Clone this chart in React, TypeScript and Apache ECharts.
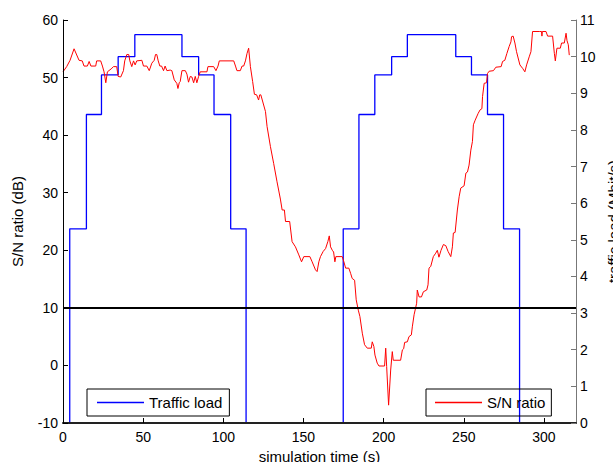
import React, { useEffect, useRef } from "react";
import * as echarts from "echarts";

// Traffic load (right axis, Mbit/s) – step changes
const trafficTime = [0, 4.2, 14.6, 24, 34.4, 44.8, 74.2, 84.6, 94.2, 104.6, 114.2, 174.8, 184.6, 194.5, 205, 214.8, 245, 254.8, 264.8, 274.8, 284.8, 320];
const trafficLoad = [0, 5.3, 8.42, 9.5, 10.0, 10.6, 10.0, 9.5, 8.42, 5.3, 0, 5.3, 8.42, 9.5, 10.0, 10.6, 10.0, 9.5, 8.42, 5.3, 0, 0];

// S/N ratio (left axis, dB)
const snTime = [
  0, 2.3, 4.4, 6.9, 10, 12, 13.1, 15.2, 16.3, 17.4, 20.4, 21, 23.5, 24.6, 25.6, 26.7, 27.7, 30, 31.5, 33.5,
  34.4, 36, 37.7, 38.5, 39.8, 41, 41.7, 42.9, 44, 45, 46, 49.2, 50.2, 52.3, 53.8, 55.4, 56.9, 57.7, 58.5, 59.4,
  60.4, 61.5, 62.7, 63.7, 64.8, 66.9, 67.9, 69.4, 71, 71.7, 72.5, 73.1, 74.2, 76.3, 77.3, 78.3, 79.4, 80.4, 81.5, 82.5,
  83.5, 84.6, 85.6, 89.8, 90.4, 94, 95.4, 96.7, 97.5, 106.5, 107.6, 108.5, 110.6, 111.7, 112.7, 113.8, 114.8, 115.8, 116.9, 118.3,
  119.4, 120.8, 122, 122.7, 123.4, 126.3, 127.3, 129.4, 131.4, 133.5, 135.6, 136.7, 138.1, 138.8, 141.4, 142.9, 145, 147.1, 148.8, 150.2,
  154, 155.4, 157.5, 158.5, 159.6, 160.6, 162.3, 163.8, 165.2, 166.1, 166.9, 168, 168.8, 169.6, 170.2, 174.2, 175.2, 176.3, 178.3, 179.4,
  180.4, 181.9, 182.9, 184.2, 185.2, 186.7, 188.1, 189.8, 192.3, 192.9, 193.9, 194.6, 196, 197.1, 200.6, 201.3, 201.9, 203.1, 204.4, 205.4,
  206, 210.6, 211.7, 212.5, 213.1, 214.8, 215.8, 217.3, 217.9, 219, 220.6, 221, 222.1, 223.6, 224.8, 226.9, 227.7, 228.3, 229.4, 231,
  232.5, 233.5, 234.5, 235.8, 237.3, 238.8, 240.2, 241.9, 242.9, 243.5, 244.6, 246, 247.1, 248.1, 250.2, 251.3, 252.3, 253.3, 254.4, 255.4,
  256, 257.1, 259, 260.2, 261.3, 261.7, 262.7, 264.2, 264.8, 265.8, 268.5, 270, 273.3, 274.2, 275.6, 276.9, 278.3, 279.4, 279.8, 280.8,
  281.9, 282.9, 283.9, 285, 286.7, 288.1, 289.2, 290.8, 291.9, 292.9, 297.1, 298.5, 298.75, 299, 301.3, 302.3, 305.4, 306.5, 307.1, 308.1,
  310.2, 311, 312.7, 313.8, 314.4, 315.2, 315.8,
];
const snRatio = [
  51.0, 51.9, 53.0, 55.0, 53.0, 52.9, 52.0, 52.0, 52.8, 52.0, 52.0, 52.9, 52.9, 52.0, 51.0, 49.1, 51.0, 51.5, 51.9, 51.9,
  50.2, 50.1, 51.2, 52.9, 54.0, 54.0, 52.9, 51.9, 52.9, 52.2, 52.9, 53.0, 52.0, 52.0, 51.2, 52.5, 53.0, 54.0, 54.0, 52.9,
  52.0, 52.0, 51.2, 52.0, 51.2, 51.3, 51.2, 49.6, 49.0, 48.1, 49.1, 49.3, 51.2, 51.2, 50.6, 49.2, 50.2, 50.1, 49.1, 50.2,
  49.1, 50.2, 51.0, 51.0, 51.9, 51.9, 51.2, 52.0, 52.9, 52.9, 52.0, 51.2, 51.2, 52.0, 52.0, 52.9, 54.2, 55.1, 51.9, 49.3,
  47.1, 47.0, 46.1, 47.0, 47.0, 44.1, 41.5, 38.0, 35.1, 31.9, 28.9, 27.0, 27.0, 25.0, 25.0, 21.5, 20.6, 19.2, 18.0, 18.9,
  18.9, 18.0, 16.6, 16.3, 18.0, 18.9, 19.8, 20.3, 21.5, 22.5, 20.6, 20.0, 19.7, 18.0, 18.9, 18.9, 18.0, 16.9, 16.9, 16.0,
  15.1, 14.8, 11.4, 9.6, 8.5, 5.6, 3.6, 3.0, 3.0, 4.1, 3.3, 1.8, 0.4, -0.1, -0.1, 3.0, -0.2, -6.9, -0.8, 2.4,
  0.9, 0.9, 2.7, 2.9, 4.0, 4.1, 5.0, 5.3, 6.7, 8.8, 10.8, 13.1, 11.9, 11.9, 12.8, 13.1, 14.0, 16.9, 17.2, 18.9,
  19.5, 20.0, 18.8, 20.0, 21.0, 20.8, 19.8, 18.9, 20.6, 23.0, 23.1, 27.0, 29.3, 30.8, 31.2, 33.4, 33.6, 34.8, 37.4, 38.9,
  41.8, 42.6, 43.8, 44.4, 44.6, 46.7, 49.0, 49.1, 50.7, 51.1, 51.2, 51.8, 51.9, 52.8, 53.0, 54.2, 55.4, 56.2, 57.1, 57.2,
  56.0, 54.5, 53.4, 52.2, 51.6, 51.0, 52.2, 53.6, 54.5, 58.0, 58.0, 58.0, 57.2, 58.0, 58.0, 57.2, 57.2, 54.2, 52.9, 55.1,
  55.1, 56.0, 56.0, 57.7, 56.4, 55.7, 53.9,
];

const snThreshold = 10;

const xTicks = { min: 0, max: 320, interval: 50 };
const leftTicks = { min: -10, max: 60, interval: 10 };
const rightTicks = { min: 0, max: 11, interval: 1 };

const FONT = "Liberation Sans, Arial, sans-serif";

export default function App() {
  const ref = useRef<HTMLDivElement>(null);
  useEffect(() => {
    if (!ref.current) return;
    const chart = echarts.init(ref.current, undefined, { renderer: "svg" });
    const labelStyle = { color: "#000", fontFamily: FONT, fontSize: 14 };
    const legendBase = {
      top: 389,
      icon: "rect",
      itemWidth: 47,
      itemHeight: 1.3,
      itemGap: 5,
      borderColor: "#000",
      borderWidth: 1,
      borderRadius: 0,
      textStyle: { color: "#000", fontFamily: FONT, fontSize: 15, lineHeight: 17 },
    };
    chart.setOption({
      animation: false,
      backgroundColor: "#fff",
      textStyle: { fontFamily: FONT },
      grid: { left: 63, right: 37, top: 20, bottom: 39, containLabel: false, outerBoundsMode: "none" },
      legend: [
        { ...legendBase, data: ["Traffic load"], left: 87, padding: [5, 7, 5, 10] },
        { ...legendBase, data: ["S/N ratio"], left: 426, padding: [5, 6, 5, 9] },
      ],
      xAxis: {
        type: "value",
        ...xTicks,
        z: 10,
        name: "simulation time (s)",
        nameLocation: "middle",
        nameGap: 25,
        nameTextStyle: { color: "#000", fontFamily: FONT, fontSize: 15 },
        axisLine: { onZero: false, lineStyle: { color: "#222", width: 2 } },
        axisTick: { inside: true, length: 5, lineStyle: { color: "#000" } },
        axisLabel: { ...labelStyle, margin: 7, showMaxLabel: false },
        splitLine: { show: false },
      },
      yAxis: [
        {
          type: "value",
          ...leftTicks,
          position: "left",
          z: 10,
          name: "S/N ratio (dB)",
          nameLocation: "middle",
          nameGap: 38,
          nameRotate: 90,
          nameTextStyle: { color: "#000", fontFamily: FONT, fontSize: 15 },
          axisLine: { show: true, onZero: false, lineStyle: { color: "#000", width: 1 } },
          axisTick: { show: true, inside: true, length: 5, lineStyle: { color: "#000" } },
          axisLabel: { ...labelStyle, margin: 5 },
          splitLine: { show: false },
        },
        {
          type: "value",
          ...rightTicks,
          position: "right",
          z: 10,
          name: "traffic load (Mbit/s)",
          nameLocation: "middle",
          nameGap: 27,
          nameRotate: 90,
          nameTextStyle: { color: "#000", fontFamily: FONT, fontSize: 15 },
          axisLine: { show: true, onZero: false, lineStyle: { color: "#777", width: 1 } },
          axisTick: { show: true, inside: true, length: 5, lineStyle: { color: "#777" } },
          axisLabel: { ...labelStyle, margin: 4 },
          splitLine: { show: false },
        },
      ],
      series: [
        {
          name: "Traffic load",
          type: "line",
          yAxisIndex: 1,
          step: "end",
          symbol: "none",
          data: trafficTime.map((t, i) => [t, trafficLoad[i]]),
          lineStyle: { color: "#0000ff", width: 1.3 },
          itemStyle: { color: "#0000ff" },
          z: 2,
        },
        {
          name: "S/N ratio",
          type: "line",
          yAxisIndex: 0,
          symbol: "none",
          data: snTime.map((t, i) => [t, snRatio[i]]),
          lineStyle: { color: "#ff0000", width: 1 },
          itemStyle: { color: "#ff0000" },
          z: 3,
          markLine: {
            silent: true,
            symbol: "none",
            label: { show: false },
            lineStyle: { color: "#000", width: 2.2, type: "solid" },
            data: [{ yAxis: snThreshold }],
            z: 5,
          },
        },
      ],
    });
    return () => chart.dispose();
  }, []);
  return <div ref={ref} style={{ width: 613, height: 462, position: "absolute", left: 0, top: 0 }} />;
}
